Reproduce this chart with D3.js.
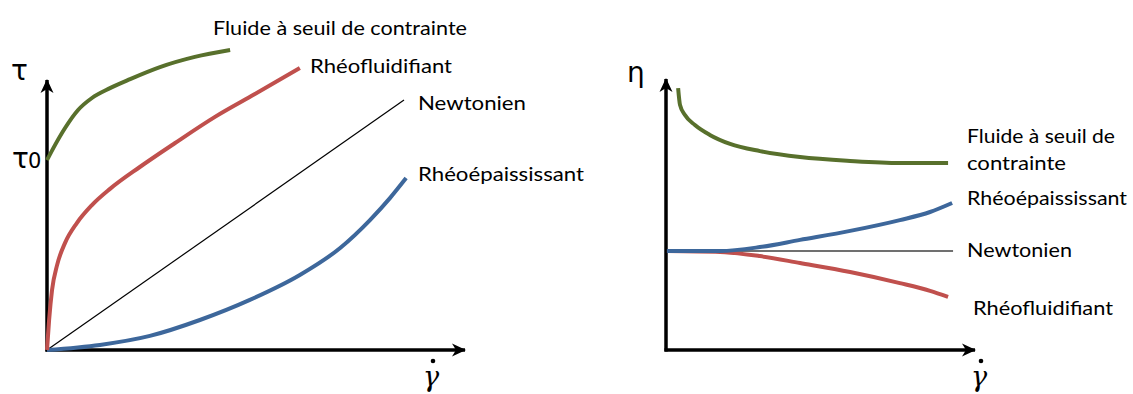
<!DOCTYPE html>
<html><head><meta charset="utf-8">
<script src="https://cdn.jsdelivr.net/npm/d3@7"></script>
<style>body{margin:0;background:#fff}svg{display:block}</style>
</head><body>
<svg id="c" width="1133" height="394"></svg>
<script>
// ---- data (arbitrary units 0..100) ----
const leftSeuilX = [0, 1.9, 4.3, 7.4, 10.7, 15, 19.8, 26.9, 35.2, 43.6];
const leftSeuilY = [63.3, 68.3, 74, 80, 84, 87.3, 90.3, 94.3, 97.7, 100];
const leftFluidX = [0, 0.5, 1.2, 2.4, 4.3, 7.1, 10.7, 15, 22.1, 30.5, 40, 49.5, 60.2];
const leftFluidY = [0, 10, 20, 28.3, 35.7, 42.3, 48.3, 53.7, 61, 69, 77.7, 85.3, 94];
const leftNewtX = [0, 85];
const leftNewtY = [0, 83.3];
const leftEpaisX = [0, 12.6, 24.5, 36.4, 48.3, 60.2, 69.8, 76.9, 81.7, 85.5];
const leftEpaisY = [0, 1.7, 4.7, 10, 16.7, 25, 34, 43.3, 50.7, 57.3];

const rightSeuilX = [3.9, 4.5, 6.1, 9.3, 14.1, 20.6, 30.2, 43.1, 59.2, 75.2, 90.7];
const rightSeuilY = [87.3, 81.7, 78.3, 75, 71.7, 68.7, 66.3, 64.3, 63, 62.3, 62.3];
const rightEpaisX = [0.3, 17.4, 30.2, 43.1, 59.2, 75.2, 84.9, 92];
const rightEpaisY = [33, 33, 34.3, 36.7, 39.7, 43.3, 46, 49];
const rightFluidX = [0.3, 17.4, 30.2, 43.1, 59.2, 75.2, 84.9, 90.7];
const rightFluidY = [33, 32.7, 31.3, 29, 26, 22.3, 19.7, 17.7];
const rightNewtX = [0.3, 92.3];
const rightNewtY = [33, 33];

const labelsLeft = ["Fluide à seuil de contrainte", "Rhéofluidifiant", "Newtonien", "Rhéoépaississant"];
const labelsRight = ["Fluide à seuil de", "contrainte", "Rhéoépaississant", "Newtonien", "Rhéofluidifiant"];

const GREEN = "#58702c", RED = "#c0504d", BLUE = "#3d679b", BLACK = "#000";
const FONT = "Lato, 'Open Sans', sans-serif";

const svg = d3.select("#c");
const defs = svg.append("defs");
defs.append("marker").attr("id", "arr").attr("viewBox", "-14 -7 15 14")
  .attr("refX", 0).attr("refY", 0).attr("markerWidth", 15).attr("markerHeight", 14)
  .attr("markerUnits", "userSpaceOnUse").attr("orient", "auto")
  .append("path").attr("d", "M1,0 L-13,-6.5 L-9,0 L-13,6.5 Z").attr("fill", "#000");

const yS = d3.scaleLinear().domain([0, 100]).range([350, 50]);
const xL = d3.scaleLinear().domain([0, 100]).range([47, 467]);
const xR = d3.scaleLinear().domain([0, 100]).range([666, 977]);

function zip(xs, ys) { return xs.map((x, i) => [x, ys[i]]); }

function axes(xs, yTop, xEnd) {
  const g = svg.append("g");
  g.append("line").attr("x1", xs(0)).attr("y1", yS(0) + 1.5).attr("x2", xs(0)).attr("y2", yTop)
    .attr("stroke", "#000").attr("stroke-width", 3.5).attr("marker-end", "url(#arr)");
  g.append("line").attr("x1", xs(0) - 1.5).attr("y1", yS(0)).attr("x2", xEnd).attr("y2", yS(0))
    .attr("stroke", "#000").attr("stroke-width", 3.5).attr("marker-end", "url(#arr)");
}

function curve(xs, X, Y, color, w, smooth) {
  const line = d3.line().x(d => xs(d[0])).y(d => yS(d[1]))
    .curve(smooth ? d3.curveMonotoneX : d3.curveLinear);
  svg.append("path").datum(zip(X, Y)).attr("d", line)
    .attr("fill", "none").attr("stroke", color).attr("stroke-width", w)
    .attr("stroke-linecap", "butt").attr("stroke-linejoin", "round");
}

// Axes (drawn first)
axes(xL, 80, 465);
axes(xR, 79, 975);

// Left curves
curve(xL, leftNewtX, leftNewtY, BLACK, 1.2, false);
curve(xL, leftEpaisX, leftEpaisY, BLUE, 4, true);
curve(xL, leftFluidX, leftFluidY, RED, 4, true);
curve(xL, leftSeuilX, leftSeuilY, GREEN, 4, true);

// Right curves
curve(xR, rightNewtX, rightNewtY, "#404040", 1.5, false);
curve(xR, rightFluidX, rightFluidY, RED, 4, true);
curve(xR, rightEpaisX, rightEpaisY, BLUE, 4, true);
curve(xR, rightSeuilX, rightSeuilY, GREEN, 4, true);

// Labels
function label(txt, x, y, w) {
  const t = svg.append("text").attr("x", x).attr("y", y).text(txt)
    .attr("font-family", FONT).attr("font-size", 20).attr("fill", "#000");
  if (w) t.attr("textLength", w).attr("lengthAdjust", "spacingAndGlyphs");
  return t;
}
label(labelsLeft[0], 213, 35, 254);
label(labelsLeft[1], 310, 73, 142);
label(labelsLeft[2], 418, 110, 108);
label(labelsLeft[3], 418, 181, 166);

label(labelsRight[0], 967, 143, 148);
label(labelsRight[1], 967, 170, 99);
label(labelsRight[2], 967, 205, 160);
label(labelsRight[3], 967, 257, 105);
label(labelsRight[4], 973, 315, 140);

// Greek axis labels
const GF = "'DejaVu Sans', sans-serif";
svg.append("text").attr("x", 11).attr("y", 80).text("τ")
  .attr("font-family", GF).attr("font-size", 28).attr("fill", "#000");
svg.append("text").attr("x", 12).attr("y", 168).text("τ")
  .attr("font-family", GF).attr("font-size", 28).attr("fill", "#000");
svg.append("text").attr("x", 28).attr("y", 168).text("0")
  .attr("font-family", GF).attr("font-size", 21).attr("fill", "#000");
svg.append("text").attr("x", 627).attr("y", 82).text("η")
  .attr("font-family", GF).attr("font-size", 28).attr("fill", "#000");

function gammaDot(x, y) {
  svg.append("text").attr("x", x).attr("y", y).text("γ")
    .attr("font-family", "'DejaVu Serif', serif").attr("font-style", "italic")
    .attr("font-size", 27).attr("fill", "#000");
  svg.append("circle").attr("cx", x + 10).attr("cy", y - 25).attr("r", 2.3).attr("fill", "#000");
}
gammaDot(423, 386);
gammaDot(971, 386);
</script>
</body></html>
